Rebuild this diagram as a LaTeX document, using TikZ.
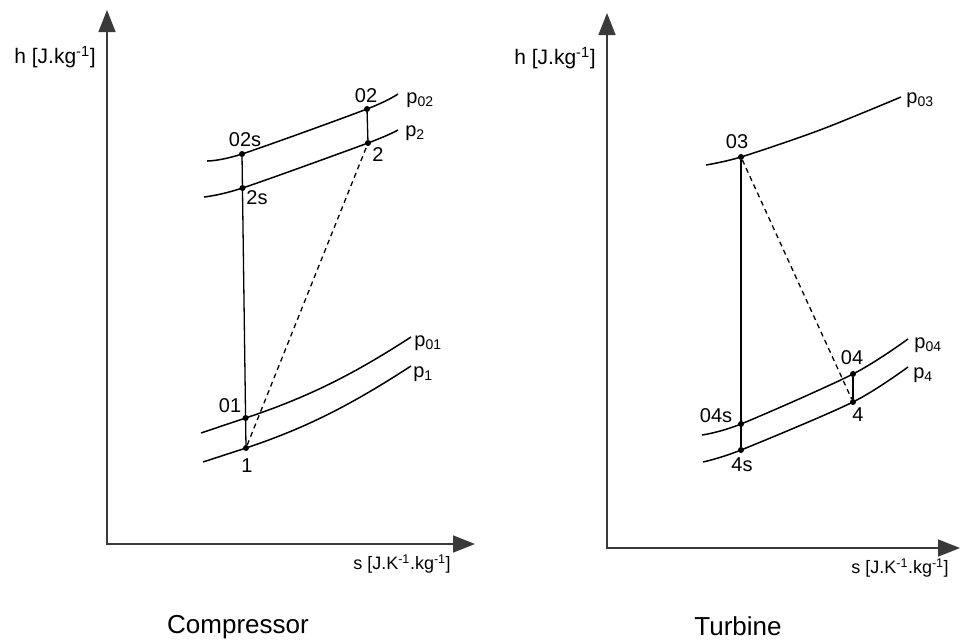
\documentclass[tikz,border=0pt]{standalone}
\usepackage{fontspec}
\setmainfont{Liberation Sans}
\usepackage{xcolor}
\usepackage{tikz}
\usetikzlibrary{positioning, arrows.meta}
\definecolor{axisgray}{HTML}{3A3A3A}

\tikzset{
    hsaxis/.style={draw=axisgray, line width=1.6pt,
        {Triangle[length=22pt, width=17pt]}-{Triangle[length=22pt, width=17pt]}},
    isobar/.style={draw=black, line width=1.5pt},
    process/.style={draw=black, line width=1.3pt},
    actual/.style={draw=black, line width=1.3pt, dash pattern=on 5pt off 4pt},
    statept/.style={circle, fill=black, inner sep=0pt, minimum size=6pt},
    ptlabel/.style={font=\fontsize{20}{24}\selectfont, inner sep=0pt},
    axlabel/.style={font=\fontsize{21}{25}\selectfont, inner sep=0pt},
    slabel/.style={font=\fontsize{18}{22}\selectfont, inner sep=0pt},
    plottitle/.style={font=\fontsize{26}{30}\selectfont, inner sep=0pt}
}

\begin{document}
\begin{tikzpicture}[x=1pt, y=-1pt]
    \useasboundingbox (0,0) rectangle (960,640);

    % compressor
    \coordinate (cTop) at (107,10);
    \coordinate (cO) at (107,544);
    \coordinate (cRight) at (475,544);
    \draw[hsaxis] (cTop) -- (cO) -- (cRight);
    \node[axlabel] (cH) at (55,57) {h [J.kg\textsuperscript{-1}]};
    \node[slabel] (cS) at (402,564) {s [J.K\textsuperscript{-1}.kg\textsuperscript{-1}]};
    \node[plottitle] (cTitle) at (238,627) {Compressor};

    \node[statept] (c02s) at (242,154) {};
    \node[statept] (c02) at (367,109) {};
    \node[statept] (c2s) at (242.5,188) {};
    \node[statept] (c2) at (368,143) {};
    \node[statept] (c01) at (245.6,418) {};
    \node[statept] (c1) at (246,448) {};

    \draw[isobar] plot[smooth] coordinates {(207,161) (c02s.center) (c02.center) (398,94)};
    \draw[isobar] plot[smooth] coordinates {(204,197) (c2s.center) (c2.center) (398,130)};
    \draw[isobar] (201,433) -- (c01.center) .. controls (305.6,398) and (351,376) .. (411,337);
    \draw[isobar] (203,462) -- (c1.center) .. controls (306,428) and (351,405) .. (411,366);

    \draw[process] (c02s) -- (c1);
    \draw[process] (c02) -- (c2);
    \draw[actual] (c1) -- (c2);

    \node[ptlabel] (l02s) at (245,140) {02s};
    \node[ptlabel] (l02) at (366,96) {02};
    \node[ptlabel] (l2s) at (257,198) {2s};
    \node[ptlabel] (l2) at (378,155) {2};
    \node[ptlabel] (l01) at (230,406) {01};
    \node[ptlabel] (l1) at (247,466) {1};
    \node[ptlabel] (lp02) at (420,100) {p\textsubscript{02}};
    \node[ptlabel] (lp2) at (415,133) {p\textsubscript{2}};
    \node[ptlabel] (lp01) at (428,343) {p\textsubscript{01}};
    \node[ptlabel] (lp1) at (423,374) {p\textsubscript{1}};

    % turbine
    \coordinate (tTop) at (607,13);
    \coordinate (tO) at (607,548);
    \coordinate (tRight) at (960,548);
    \draw[hsaxis] (tTop) -- (tO) -- (tRight);
    \node[axlabel] (tH) at (555,58) {h [J.kg\textsuperscript{-1}]};
    \node[slabel] (tS) at (900,568) {s [J.K\textsuperscript{-1}.kg\textsuperscript{-1}]};
    \node[plottitle] (tTitle) at (738,626) {Turbine};

    \node[statept] (t03) at (741,157) {};
    \node[statept] (t04s) at (741,424) {};
    \node[statept] (t4s) at (741,450) {};
    \node[statept] (t04) at (853,374) {};
    \node[statept] (t4) at (853,402) {};

    \draw[isobar] plot[smooth] coordinates {(706,165) (t03.center) (820,130) (901,97)};
    \draw[isobar] plot[smooth] coordinates {(702,435) (t04s.center) (t04.center) (908,339)};
    \draw[isobar] plot[smooth] coordinates {(703,462) (t4s.center) (t4.center) (908,367)};

    \draw[process] (t03) -- (t4s);
    \draw[process] (t04) -- (t4);
    \draw[actual] (t03) -- (t4);

    \node[ptlabel] (l03) at (737,142) {03};
    \node[ptlabel] (l04s) at (716,416) {04s};
    \node[ptlabel] (l4s) at (742,465) {4s};
    \node[ptlabel] (l04) at (852,358) {04};
    \node[ptlabel] (l4) at (858,415) {4};
    \node[ptlabel] (lp03) at (920,100) {p\textsubscript{03}};
    \node[ptlabel] (lp04) at (928,345) {p\textsubscript{04}};
    \node[ptlabel] (lp4) at (923,375) {p\textsubscript{4}};
\end{tikzpicture}
\end{document}
